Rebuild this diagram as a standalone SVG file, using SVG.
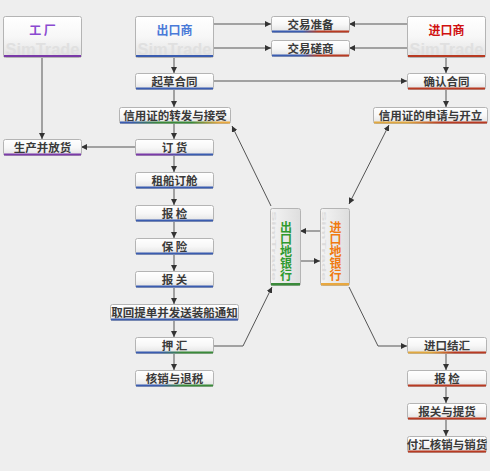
<svg xmlns="http://www.w3.org/2000/svg" width="490" height="471" viewBox="0 0 490 471">
<defs>
<linearGradient id="g" x1="0" y1="0" x2="0" y2="1"><stop offset="0" stop-color="#ffffff"/><stop offset="0.5" stop-color="#f7f7f7"/><stop offset="1" stop-color="#e2e2e2"/></linearGradient>
<linearGradient id="gv" x1="0" y1="0" x2="1" y2="0"><stop offset="0" stop-color="#f4f4f4"/><stop offset="1" stop-color="#dedede"/></linearGradient>
<linearGradient id="br" x1="0" y1="0" x2="1" y2="0"><stop offset="0.4" stop-color="#3a5cb0"/><stop offset="0.6" stop-color="#b83a22"/></linearGradient>
<linearGradient id="bgo" x1="0" y1="0" x2="1" y2="0"><stop offset="0.1" stop-color="#3a5cb0"/><stop offset="0.35" stop-color="#3a8a3a"/><stop offset="0.65" stop-color="#3a8a3a"/><stop offset="0.9" stop-color="#e8a840"/></linearGradient>
<linearGradient id="or" x1="0" y1="0" x2="1" y2="0"><stop offset="0.3" stop-color="#e0a840"/><stop offset="0.6" stop-color="#b83a22"/></linearGradient>
<linearGradient id="bg" x1="0" y1="0" x2="1" y2="0"><stop offset="0.3" stop-color="#3a5cb0"/><stop offset="0.6" stop-color="#3a8a3a"/></linearGradient>
<linearGradient id="pb" x1="0" y1="0" x2="1" y2="0"><stop offset="0.3" stop-color="#7a3aa8"/><stop offset="0.7" stop-color="#3a5cb0"/></linearGradient>
<marker id="a" markerWidth="7" markerHeight="6" refX="6" refY="3" orient="auto" markerUnits="userSpaceOnUse"><path d="M0,0 L6,3 L0,6 Z" fill="#333"/></marker>
<marker id="as" markerWidth="7" markerHeight="6" refX="0" refY="3" orient="auto" markerUnits="userSpaceOnUse"><path d="M6,0 L0,3 L6,6 Z" fill="#333"/></marker>
</defs>
<style>
.box{fill:url(#g);stroke:#b4b4b4;stroke-width:1}
.vbox{fill:url(#gv);stroke:#b4b4b4;stroke-width:1}
.t{font-family:"Noto Sans CJK SC","Noto Sans",sans-serif;font-size:11.5px;font-weight:bold;fill:#3a3a3a;text-anchor:middle}
.big{font-size:12px}
.vt{font-family:"Noto Sans CJK SC","Noto Sans",sans-serif;font-size:12px;font-weight:bold;text-anchor:middle;writing-mode:vertical-rl}
.wm{font-family:"Liberation Sans",Arial,sans-serif;font-weight:bold;font-size:16px;fill:#e0e0e0;text-anchor:middle}
.wmv{font-family:"Liberation Sans",Arial,sans-serif;font-weight:bold;font-size:6px;fill:#dcdcdc}
.c{fill:none;stroke:#555;stroke-width:1}
.blue{fill:#3a5cb0}.red{fill:#b83a22}.purple{fill:#7a3aa8}.green{fill:#3a8a3a}.orange{fill:#e8a840}
</style>
<rect width="490" height="471" fill="#eeeeee"/>

<g id="connectors">
<path class="c" d="M42,57V139" marker-end="url(#a)"/>
<path class="c" d="M213,24H271" marker-end="url(#a)"/>
<path class="c" d="M213,48H271" marker-end="url(#a)"/>
<path class="c" d="M407,24H349" marker-end="url(#a)"/>
<path class="c" d="M407,48H349" marker-end="url(#a)"/>
<path class="c" d="M174,57V73" marker-end="url(#a)"/>
<path class="c" d="M213,81H407" marker-end="url(#a)"/>
<path class="c" d="M174,90V107" marker-end="url(#a)"/>
<path class="c" d="M446,57V73" marker-end="url(#a)"/>
<path class="c" d="M446,90V107" marker-end="url(#a)"/>
<path class="c" d="M174,123V139" marker-end="url(#a)"/>
<path class="c" d="M135,147H81" marker-end="url(#a)"/>
<path class="c" d="M174,156V172" marker-end="url(#a)"/>
<path class="c" d="M174,189V205" marker-end="url(#a)"/>
<path class="c" d="M174,222V238" marker-end="url(#a)"/>
<path class="c" d="M174,255V271" marker-end="url(#a)"/>
<path class="c" d="M174,288V304" marker-end="url(#a)"/>
<path class="c" d="M174,321V337" marker-end="url(#a)"/>
<path class="c" d="M174,354V370" marker-end="url(#a)"/>
<path class="c" d="M271,206L232,126" marker-end="url(#a)"/>
<path class="c" d="M349,204L389,125" marker-start="url(#as)" marker-end="url(#a)"/>
<path class="c" d="M320,231H300" marker-end="url(#a)"/>
<path class="c" d="M300,261H320" marker-end="url(#a)"/>
<path class="c" d="M213,346H243L272,287" marker-end="url(#a)"/>
<path class="c" d="M349,287L378,346H407" marker-end="url(#a)"/>
<path class="c" d="M446,354V370" marker-end="url(#a)"/>
<path class="c" d="M446,387V403" marker-end="url(#a)"/>
<path class="c" d="M446,420V436" marker-end="url(#a)"/>
</g>

<g id="factory"><rect class="box" x="3.5" y="16.5" width="78" height="41" rx="2"/><text class="wm" x="42.5" y="55" textLength="74" lengthAdjust="spacingAndGlyphs">SimTrade</text><rect class="purple" x="4" y="55" width="77" height="2"/><text class="t big" x="42.5" y="35" style="fill:#8a4ad0">工 厂</text></g>
<g id="exporter"><rect class="box" x="135.5" y="16.5" width="78" height="41" rx="2"/><text class="wm" x="174.5" y="55" textLength="74" lengthAdjust="spacingAndGlyphs">SimTrade</text><rect class="blue" x="136" y="55" width="77" height="2"/><text class="t big" x="174.5" y="35" style="fill:#4a7ad8">出口商</text></g>
<g id="importer"><rect class="box" x="407.5" y="16.5" width="78" height="41" rx="2"/><text class="wm" x="446.5" y="55" textLength="74" lengthAdjust="spacingAndGlyphs">SimTrade</text><rect class="red" x="408" y="55" width="77" height="2"/><text class="t big" x="446.5" y="35" style="fill:#d01010">进口商</text></g>

<g id="prep"><rect class="box" x="271.5" y="16.5" width="78" height="16" rx="2"/><rect x="272" y="30.5" width="77" height="2" fill="url(#br)"/><text class="t" x="310.5" y="28.5">交易准备</text></g>
<g id="negotiate"><rect class="box" x="271.5" y="40.5" width="78" height="16" rx="2"/><rect x="272" y="54.5" width="77" height="2" fill="url(#br)"/><text class="t" x="310.5" y="52.5">交易磋商</text></g>

<g id="draft"><rect class="box" x="135.5" y="73.5" width="78" height="16" rx="2"/><rect class="blue" x="136" y="87.5" width="77" height="2"/><text class="t" x="174.5" y="85.5">起草合同</text></g>
<g id="confirm"><rect class="box" x="407.5" y="73.5" width="78" height="16" rx="2"/><rect class="red" x="408" y="87.5" width="77" height="2"/><text class="t" x="446.5" y="85.5">确认合同</text></g>

<g id="lc-forward"><rect class="box" x="119.5" y="107.5" width="111" height="16" rx="2"/><rect x="120" y="121.5" width="110" height="2" fill="url(#bgo)"/><text class="t" x="175" y="119.5">信用证的转发与接受</text></g>
<g id="lc-apply"><rect class="box" x="373.5" y="107.5" width="114" height="16" rx="2"/><rect x="374" y="121.5" width="113" height="2" fill="url(#or)"/><text class="t" x="430.5" y="119.5">信用证的申请与开立</text></g>

<g id="produce"><rect class="box" x="3.5" y="139.5" width="78" height="16" rx="2"/><rect class="purple" x="4" y="153.5" width="77" height="2"/><text class="t" x="42.5" y="151.5">生产并放货</text></g>
<g id="order"><rect class="box" x="135.5" y="139.5" width="78" height="16" rx="2"/><rect x="136" y="153.5" width="77" height="2" fill="url(#pb)"/><text class="t" x="174.5" y="151.5">订 货</text></g>
<g id="ship"><rect class="box" x="135.5" y="172.5" width="78" height="16" rx="2"/><rect class="blue" x="136" y="186.5" width="77" height="2"/><text class="t" x="174.5" y="184.5">租船订舱</text></g>
<g id="inspect"><rect class="box" x="135.5" y="205.5" width="78" height="16" rx="2"/><rect class="blue" x="136" y="219.5" width="77" height="2"/><text class="t" x="174.5" y="217.5">报 检</text></g>
<g id="insure"><rect class="box" x="135.5" y="238.5" width="78" height="16" rx="2"/><rect class="blue" x="136" y="252.5" width="77" height="2"/><text class="t" x="174.5" y="250.5">保 险</text></g>
<g id="customs"><rect class="box" x="135.5" y="271.5" width="78" height="16" rx="2"/><rect class="blue" x="136" y="285.5" width="77" height="2"/><text class="t" x="174.5" y="283.5">报 关</text></g>
<g id="bl"><rect class="box" x="110.5" y="304.5" width="128" height="16" rx="2"/><rect class="blue" x="111" y="318.5" width="127" height="2"/><text class="t" x="174.5" y="316.5">取回提单并发送装船通知</text></g>
<g id="negotiation"><rect class="box" x="135.5" y="337.5" width="78" height="16" rx="2"/><rect x="136" y="351.5" width="77" height="2" fill="url(#bg)"/><text class="t" x="174.5" y="349.5">押 汇</text></g>
<g id="refund"><rect class="box" x="135.5" y="370.5" width="78" height="16" rx="2"/><rect x="136" y="384.5" width="77" height="2" fill="url(#bg)"/><text class="t" x="174.5" y="382.5">核销与退税</text></g>

<g id="export-bank"><rect class="vbox" x="270.5" y="208.5" width="30" height="77" rx="2"/><text class="wmv" transform="translate(272,211) rotate(90)" textLength="70" lengthAdjust="spacingAndGlyphs">SimTrade</text><rect class="green" x="271" y="283" width="29" height="2.5"/><text class="vt" x="286" y="251" style="fill:#2f9a2f">出口地银行</text></g>
<g id="import-bank"><rect class="vbox" x="320.5" y="208.5" width="29" height="77" rx="2"/><text class="wmv" transform="translate(322,211) rotate(90)" textLength="70" lengthAdjust="spacingAndGlyphs">SimTrade</text><rect class="orange" x="321" y="283" width="28" height="2.5"/><text class="vt" x="335.5" y="251" style="fill:#f07a10">进口地银行</text></g>

<g id="settle"><rect class="box" x="407.5" y="337.5" width="79" height="16" rx="2"/><rect x="408" y="351.5" width="78" height="2" fill="url(#or)"/><text class="t" x="447" y="349.5">进口结汇</text></g>
<g id="inspect2"><rect class="box" x="407.5" y="370.5" width="79" height="16" rx="2"/><rect class="red" x="408" y="384.5" width="78" height="2"/><text class="t" x="447" y="382.5">报 检</text></g>
<g id="pickup"><rect class="box" x="407.5" y="403.5" width="79" height="16" rx="2"/><rect class="red" x="408" y="417.5" width="78" height="2"/><text class="t" x="447" y="415.5">报关与提货</text></g>
<g id="pay"><rect class="box" x="407.5" y="436.5" width="79" height="16" rx="2"/><rect class="red" x="408" y="450.5" width="78" height="2"/><text class="t" x="447" y="448.5">付汇核销与销货</text></g>
</svg>
